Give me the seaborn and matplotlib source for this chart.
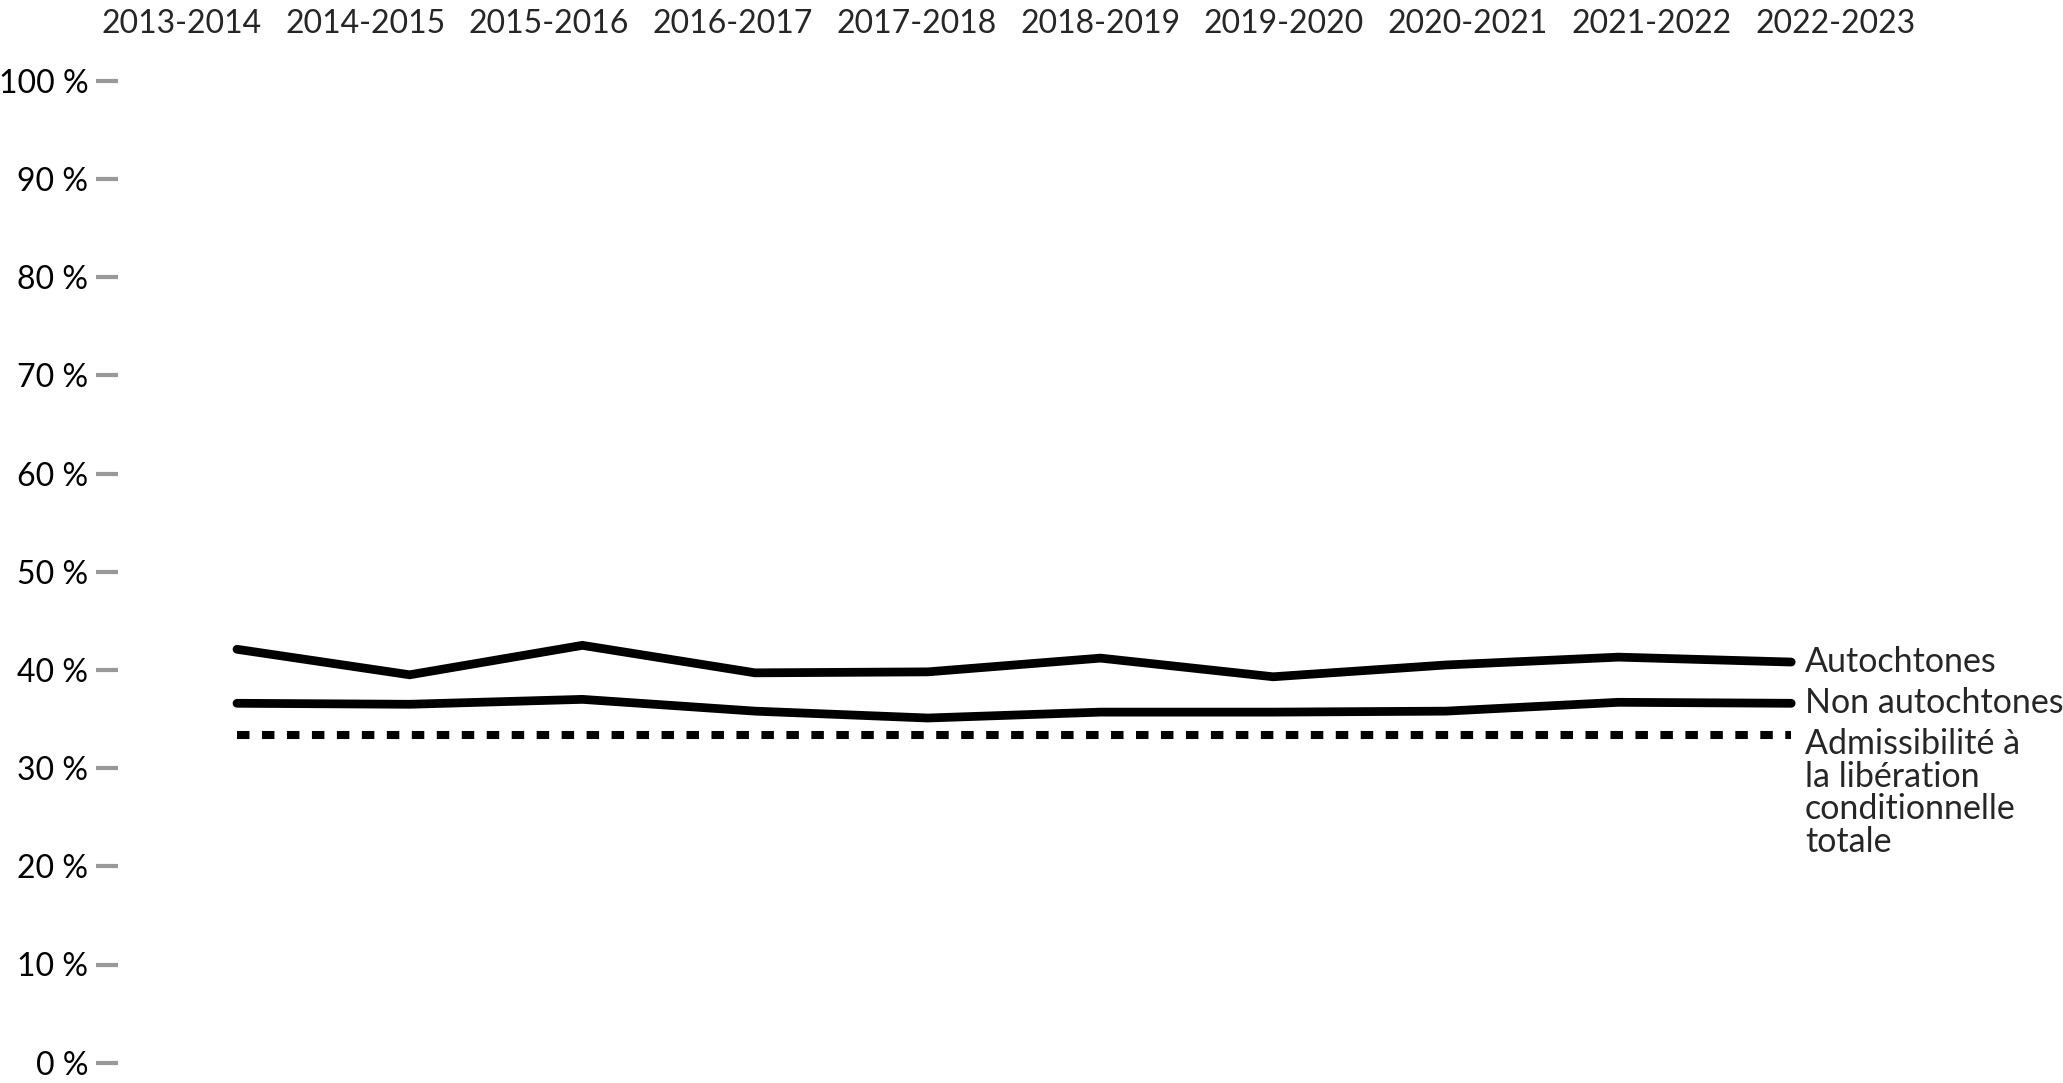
import numpy as np
import pandas as pd
import matplotlib.pyplot as plt
import seaborn as sns

# values (percent)
years = ["2013-2014", "2014-2015", "2015-2016", "2016-2017", "2017-2018",
         "2018-2019", "2019-2020", "2020-2021", "2021-2022", "2022-2023"]
autochtones = [42.1, 39.5, 42.5, 39.7, 39.8, 41.2, 39.3, 40.5, 41.3, 40.8]
non_autochtones = [36.6, 36.5, 37.0, 35.8, 35.1, 35.7, 35.7, 35.8, 36.7, 36.6]
admissibilite = [33.33] * len(years)

series_names = ["Autochtones", "Non autochtones",
                "Admissibilité à\nla libération\nconditionnelle\ntotale"]
yticks = [0, 10, 20, 30, 40, 50, 60, 70, 80, 90, 100]

sns.set_style("white")
plt.rcParams["font.family"] = ["Lato", "DejaVu Sans"]

df = pd.DataFrame({"x": np.arange(len(years)),
                   "auto": autochtones,
                   "non": non_autochtones,
                   "adm": admissibilite})

W, H = 2063, 1083
fig = plt.figure(figsize=(W / 100, H / 100), dpi=100)
ax = fig.add_axes([118 / W, 20.3 / H, (1900 - 118) / W, (1062.7 - 80.7) / H])

sns.lineplot(data=df, x="x", y="auto", ax=ax, color="black", lw=6.3,
             solid_capstyle="round", solid_joinstyle="miter")
sns.lineplot(data=df, x="x", y="non", ax=ax, color="black", lw=6.3,
             solid_capstyle="round", solid_joinstyle="miter")
sns.lineplot(data=df, x="x", y="adm", ax=ax, color="black", lw=5.8,
             linestyle=(0, (1.55, 1.55)), dash_capstyle="butt")

ax.set_xlim(-0.689, 9.63)
ax.set_ylim(0, 100)
ax.set_xticks([])
ax.set_yticks(yticks)
ax.set_yticklabels([f"{v}\u00a0%" for v in yticks], fontsize=23)
ax.tick_params(axis="y", length=15.8, width=3, color="#999999", pad=5.5,
               left=True, labelcolor="black")
ax.set_xlabel("")
ax.set_ylabel("")
for s in ax.spines.values():
    s.set_visible(False)

# period labels across the top
top = ax.twiny()
top.set_xticks(range(len(years)))
top.set_xticklabels(years, fontsize=23)
top.set_xlim(-0.346, 9.352)
top.tick_params(axis="x", length=0, pad=30, top=True, labeltop=True)
for s in top.spines.values():
    s.set_visible(False)

# series labels at line ends
last = len(years) - 1
ax.annotate(series_names[0], (last, autochtones[-1]), xytext=(10, 0),
            textcoords="offset points", va="center", fontsize=24.5, annotation_clip=False)
ax.annotate(series_names[1], (last, non_autochtones[-1]), xytext=(10, 0),
            textcoords="offset points", va="center", fontsize=24.5, annotation_clip=False)
ax.annotate(series_names[2], (last, admissibilite[-1]), xytext=(10, 5),
            textcoords="offset points", va="top", fontsize=24.5, linespacing=1.02,
            annotation_clip=False)

fig.savefig("out.png", dpi=100)
